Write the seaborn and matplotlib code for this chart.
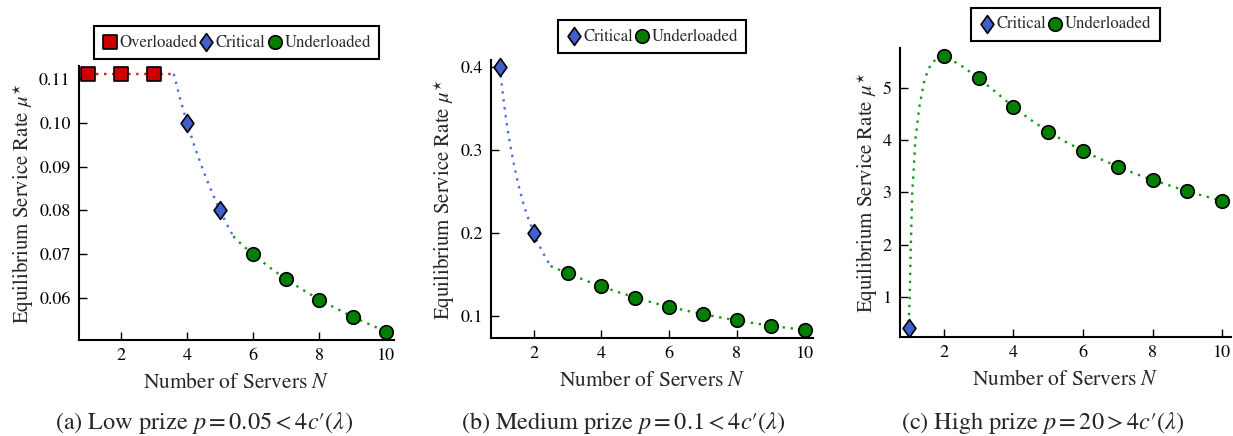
import numpy as np
import pandas as pd
import matplotlib
matplotlib.use("Agg")
import matplotlib.pyplot as plt
import seaborn as sns
from matplotlib.path import Path

# ---------------- data ----------------
# Panel (a): low prize
a_over_N = [1, 2, 3]
a_over_mu = [0.1111, 0.1111, 0.1111]
a_crit_N = [4, 5]
a_crit_mu = [0.100, 0.080]
a_under_N = [6, 7, 8, 9, 10]
a_under_mu = [0.0700, 0.0643, 0.0597, 0.0558, 0.0524]
# curves
a_red_curve_N = [1.0, 3.6]
a_red_curve_mu = [0.1111, 0.1111]
a_blue_curve_N = [3.6, 3.8, 4.0, 4.25, 4.5, 4.75, 5.0, 5.2, 5.4]
a_blue_curve_mu = [0.1111, 0.1053, 0.1000, 0.0941, 0.0889, 0.0842, 0.0800, 0.0769, 0.0741]
a_green_curve_N = [5.4, 5.7, 6.0, 6.5, 7.0, 7.5, 8.0, 8.5, 9.0, 9.5, 10.0]
a_green_curve_mu = [0.0741, 0.0719, 0.0700, 0.0670, 0.0643, 0.0619, 0.0597, 0.0577, 0.0558, 0.0541, 0.0524]

# Panel (b): medium prize
b_crit_N = [1, 2]
b_crit_mu = [0.400, 0.200]
b_under_N = [3, 4, 5, 6, 7, 8, 9, 10]
b_under_mu = [0.1513, 0.1353, 0.1220, 0.1108, 0.1020, 0.0944, 0.0880, 0.0828]
b_blue_curve_N = [1.0, 1.1, 1.2, 1.3, 1.4, 1.5, 1.6, 1.7, 1.8, 1.9, 2.0, 2.1, 2.2, 2.3, 2.4, 2.5]
b_blue_curve_mu = [0.400, 0.364, 0.333, 0.308, 0.286, 0.267, 0.250, 0.235, 0.222, 0.211,
                   0.200, 0.190, 0.182, 0.174, 0.167, 0.160]
b_green_curve_N = [2.5, 3.0, 3.5, 4.0, 4.5, 5.0, 5.5, 6.0, 6.5, 7.0, 7.5, 8.0, 8.5, 9.0, 9.5, 10.0]
b_green_curve_mu = [0.160, 0.1513, 0.1430, 0.1353, 0.1285, 0.1220, 0.1160, 0.1108, 0.1062,
                    0.1020, 0.0980, 0.0944, 0.0910, 0.0880, 0.0853, 0.0828]

# Panel (c): high prize
c_crit_N = [1]
c_crit_mu = [0.40]
c_under_N = [2, 3, 4, 5, 6, 7, 8, 9, 10]
c_under_mu = [5.62, 5.19, 4.635, 4.166, 3.797, 3.496, 3.240, 3.020, 2.840]
c_green_curve_N = [1.0, 1.02, 1.05, 1.09, 1.14, 1.18, 1.24, 1.29, 1.36, 1.43, 1.53, 1.64, 1.79, 2.0,
                   2.5, 3.0, 3.5, 4.0, 4.5, 5.0, 5.5, 6.0, 6.5, 7.0, 7.5, 8.0, 8.5, 9.0, 9.5, 10.0]
c_green_curve_mu = [0.65, 1.00, 1.96, 2.98, 3.50, 4.01, 4.33, 4.62, 4.87, 5.11, 5.32, 5.47, 5.56, 5.62,
                    5.43, 5.19, 4.92, 4.635, 4.39, 4.166, 3.97, 3.797, 3.64, 3.496, 3.36, 3.240,
                    3.13, 3.020, 2.93, 2.840]

captions = ["(a) Low prize $p = 0.05 < 4c\u2032(\\lambda)$",
            "(b) Medium prize $p = 0.1 < 4c\u2032(\\lambda)$",
            "(c) High prize $p = 20 > 4c\u2032(\\lambda)$"]
a_yticks = [0.06, 0.07, 0.08, 0.09, 0.10, 0.11]
b_yticks = [0.1, 0.2, 0.3, 0.4]
c_yticks = [1, 2, 3, 4, 5]
xticks = [2, 4, 6, 8, 10]

# ---------------- style ----------------
sns.set_style("ticks")
plt.rcParams["font.family"] = ["STIXGeneral", "DejaVu Serif"]
plt.rcParams["mathtext.fontset"] = "stix"

RED = "#cc0000"
BLUE = "#4060d0"
GREEN = "#007f00"
LRED = "#dd1111"
LBLUE = "#4a6cf0"
LGREEN = "#119911"
diamond = Path([(0, 1), (0.72, 0), (0, -1), (-0.72, 0), (0, 1)],
               [Path.MOVETO, Path.LINETO, Path.LINETO, Path.LINETO, Path.CLOSEPOLY])

fig = plt.figure(figsize=(12.33, 4.36), dpi=100)
W, H = 1233, 436
boxes = [(79, 394, 66, 340), (491, 813, 60, 338), (900, 1231, 48, 337)]
axes = []
for (l, r, t, b) in boxes:
    axes.append(fig.add_axes([l / W, (H - b) / H, (r - l) / W, (b - t) / H]))

def curve(ax, N, mu, color):
    sns.lineplot(x=N, y=mu, ax=ax, color=color, linestyle=(0, (1, 2.4)), linewidth=1.7,
                 zorder=2, legend=False)

def pts(ax, N, mu, marker, color, label, s=80):
    return ax.scatter(N, mu, marker=marker, s=s, c=color, edgecolors="black",
                      linewidths=1.2, zorder=3, label=label)

def style(ax, ylim, yticks, fmt, caption, cx):
    ax.set_xlim(0.74, 10.25)
    ax.set_ylim(*ylim)
    ax.set_xticks(xticks)
    ax.set_yticks(yticks)
    ax.set_yticklabels([fmt.format(v) for v in yticks])
    sns.despine(ax=ax)
    for sp in ("left", "bottom"):
        ax.spines[sp].set_linewidth(1.5)
        ax.spines[sp].set_color("black")
    ax.tick_params(direction="in", length=6, width=1, labelsize=13, pad=6, colors="black")
    ax.set_xlabel(r"Number of Servers $N$", fontsize=15.5, labelpad=6)
    ax.set_ylabel(r"Equilibrium Service Rate $\mu^{\star}$", fontsize=15, labelpad=2)
    fig.text(cx, 0.03, caption, fontsize=17.5, ha="center", va="center")

def legend(ax, handles):
    leg = ax.legend(handles=handles, loc="lower center", bbox_to_anchor=(0.5, 1.025),
                    ncol=len(handles), frameon=True, fancybox=False, fontsize=12,
                    handletextpad=0.12, columnspacing=0.1, handlelength=0.9,
                    borderpad=0.5, borderaxespad=0.0, scatterpoints=1)
    leg.get_frame().set_edgecolor("black")
    leg.get_frame().set_linewidth(1.5)
    leg.get_frame().set_alpha(1)

SQ, DI, CI = 100, 165, 95

# Panel a
ax = axes[0]
curve(ax, a_red_curve_N, a_red_curve_mu, LRED)
curve(ax, a_blue_curve_N, a_blue_curve_mu, LBLUE)
curve(ax, a_green_curve_N, a_green_curve_mu, LGREEN)
h1 = pts(ax, a_over_N, a_over_mu, "s", RED, "Overloaded", s=SQ)
h2 = pts(ax, a_crit_N, a_crit_mu, diamond, BLUE, "Critical", s=DI)
h3 = pts(ax, a_under_N, a_under_mu, "o", GREEN, "Underloaded", s=CI)
style(ax, (0.0505, 0.1129), a_yticks, "{:.2f}", captions[0], 204 / W)
legend(ax, [h1, h2, h3])

# Panel b
ax = axes[1]
curve(ax, b_blue_curve_N, b_blue_curve_mu, LBLUE)
curve(ax, b_green_curve_N, b_green_curve_mu, LGREEN)
h2 = pts(ax, b_crit_N, b_crit_mu, diamond, BLUE, "Critical", s=DI)
h3 = pts(ax, b_under_N, b_under_mu, "o", GREEN, "Underloaded", s=CI)
style(ax, (0.0731, 0.4088), b_yticks, "{:.1f}", captions[1], 623 / W)
legend(ax, [h2, h3])
h2.set_clip_on(False)

# Panel c
ax = axes[2]
curve(ax, c_green_curve_N, c_green_curve_mu, LGREEN)
h2 = pts(ax, c_crit_N, c_crit_mu, diamond, BLUE, "Critical", s=DI)
h3 = pts(ax, c_under_N, c_under_mu, "o", GREEN, "Underloaded", s=CI)
style(ax, (0.232, 5.768), c_yticks, "{:g}", captions[2], 1043 / W)
legend(ax, [h2, h3])
h2.set_clip_on(False)
h3.set_clip_on(False)

fig.savefig("out.png", dpi=100)
